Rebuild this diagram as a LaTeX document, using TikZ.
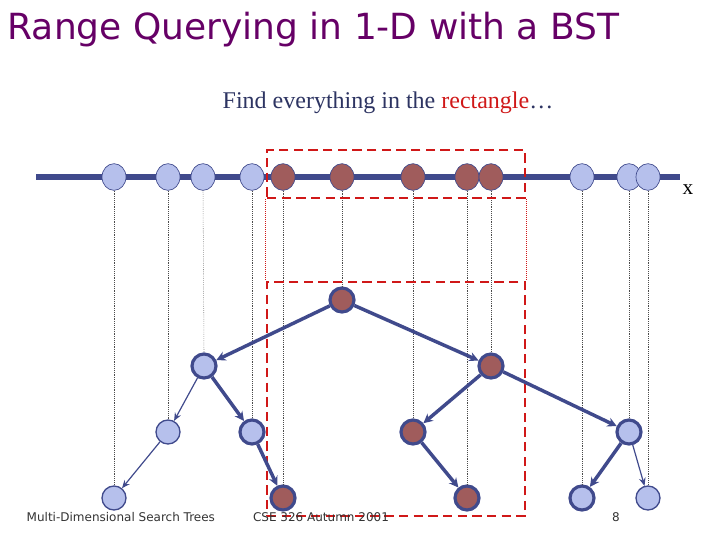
\documentclass[tikz,border=0pt]{standalone}
\usepackage{fontspec}
\setsansfont{DejaVu Sans}
\setmainfont{Liberation Serif}
\usetikzlibrary{arrows.meta,shapes.geometric}
\definecolor{navy}{HTML}{404A8C}
\definecolor{lite}{HTML}{B6C0EC}
\definecolor{brn}{HTML}{A05C5C}
\definecolor{rd}{HTML}{D01818}
\definecolor{ttl}{HTML}{660066}
\begin{document}
\begin{tikzpicture}[x=0.75pt,y=-0.75pt,
  pt/.style={ellipse,draw=navy,line width=0.5pt,minimum width=18pt,minimum height=20pt,inner sep=0pt},
  ptl/.style={pt,fill=lite},ptb/.style={pt,fill=brn},
  tn/.style={circle,minimum size=18pt,inner sep=0pt,draw=navy},
  tk/.style={line width=2.4pt},tt/.style={line width=1pt},
  lt/.style={fill=lite},bn/.style={fill=brn},
  ea/.style={draw=navy,-{Stealth[length=7pt,width=7pt]},line width=2.6pt},
  eb/.style={draw=navy,-{Stealth[length=6pt,width=5pt]},line width=0.9pt},
  dl/.style={densely dotted,line width=0.4pt,black!70},
  rbox/.style={draw=rd,line width=2.2pt,dash pattern=on 7pt off 4pt}]
\useasboundingbox (0,0) rectangle (720,540);
\node[anchor=west,text=ttl,font=\sffamily\fontsize{27}{30}\selectfont] (title) at (3,30) {Range Querying in 1-D with a BST};
\node[font=\fontsize{18}{21}\selectfont,text=navy!70!black] (sub) at (388,103) {Find everything in the \textcolor{rd}{rectangle}…};
% tree nodes
\node[tn,tk,bn] (r) at (342,300) {};
\node[tn,tk,lt] (a) at (204,366) {};
\node[tn,tk,bn] (b) at (491,366) {};
\node[tn,tt,lt] (c) at (168,432) {};
\node[tn,tk,lt] (d) at (252,432) {};
\node[tn,tk,bn] (e) at (413,432) {};
\node[tn,tk,lt] (f) at (629,432) {};
\node[tn,tt,lt] (g) at (114,498) {};
\node[tn,tk,bn] (h) at (283,498) {};
\node[tn,tk,bn] (i) at (467,498) {};
\node[tn,tk,lt] (j) at (582,498) {};
\node[tn,tt,lt] (k) at (648,498) {};
% axis
\coordinate (x0) at (36,177); \coordinate (x1) at (680,177);
\draw[navy,line width=5pt] (x0) -- (x1);
\foreach \n/\x/\s/\t in {p1/114/ptl/g,p2/168/ptl/c,p3/203/ptl/a,p4/252/ptl/d,p5/283/ptb/h,p6/342/ptb/r,p7/413/ptb/e,p8/467/ptb/i,p9/491/ptb/b,p10/582/ptl/j,p11/629/ptl/f,p12/648/ptl/k}{
  \node[\s] (\n) at (\x,177) {};
  \draw[dl] (\n.south) -- (\t.north);
}
\node[font=\fontsize{16}{18}\selectfont] (xl) at (688,190) {x};
% red boxes
\node[rbox,minimum width=193.5pt,minimum height=36pt,inner sep=0pt] (rt) at (396,174) {};
\node[rbox,minimum width=193.5pt,minimum height=175.5pt,inner sep=0pt] (rb) at (396,399) {};
\draw[rd,densely dotted,line width=0.5pt] (rt.south west) -- (rb.north west);
\draw[rd,densely dotted,line width=0.5pt] (rt.south east) -- (rb.north east);
% edges
\draw[ea] (r) -- (a);
\draw[ea] (r) -- (b);
\draw[eb] (a) -- (c);
\draw[ea] (a) -- (d);
\draw[ea] (d) -- (h);
\draw[eb] (c) -- (g);
\draw[ea] (b) -- (e);
\draw[ea] (b) -- (f);
\draw[ea] (e) -- (i);
\draw[ea] (f) -- (j);
\draw[eb] (f) -- (k);
% footer
\node[anchor=west,font=\sffamily\fontsize{9}{11}\selectfont,text=black!80] (f1) at (22,517) {Multi-Dimensional Search Trees};
\node[font=\sffamily\fontsize{9}{11}\selectfont,text=black!80] (f2) at (321,517) {CSE 326 Autumn 2001};
\node[font=\sffamily\fontsize{9}{11}\selectfont,text=black!80] (f3) at (616,517) {8};
\end{tikzpicture}
\end{document}
